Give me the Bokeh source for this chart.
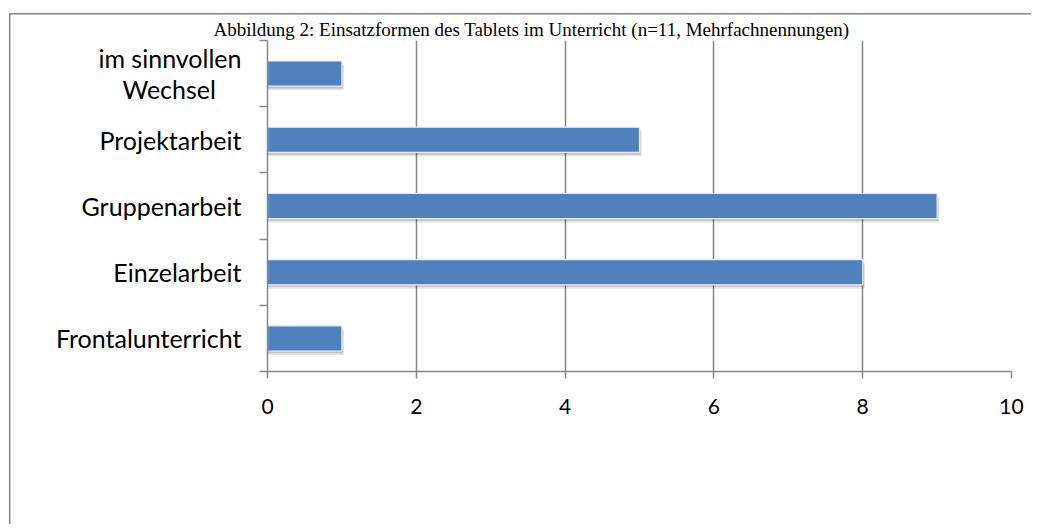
from bokeh.plotting import figure
from bokeh.models import FixedTicker, ColumnDataSource
from bokeh.transform import dodge
from bokeh.embed import file_html
from bokeh.resources import INLINE

categories = ["Frontalunterricht", "Einzelarbeit", "Gruppenarbeit", "Projektarbeit",
              "im sinnvollen\nWechsel\u00a0\u00a0\u00a0\u00a0"]
counts = [1, 8, 9, 5, 1]
x_ticks = [0, 2, 4, 6, 8, 10]
title_text = "Abbildung 2: Einsatzformen des Tablets im Unterricht (n=11, Mehrfachnennungen)"

positions = [i + 0.5 for i in range(len(categories))]
boundaries = list(range(len(categories) + 1))
src = ColumnDataSource(dict(y=positions, value=counts, cat=categories))

GRAY = "#878787"
FONT = "Lato"

grad = "linear-gradient(#878787, #878787)"
p = figure(frame_width=744, frame_height=331,
           min_border_left=267, min_border_right=20,
           min_border_top=40, min_border_bottom=153,
           x_range=(0, 10), y_range=(0, len(categories)),
           output_backend="svg", toolbar_location=None,
           title=title_text,
           styles={"background-color": "white",
                   "background-image": grad + ", " + grad,
                   "background-size": "1.5px 700px, 1300px 1.5px",
                   "background-position": "9px 13px, 9px 13px",
                   "background-repeat": "no-repeat, no-repeat"})
p.outline_line_color = None
p.background_fill_color = None
p.border_fill_color = None

p.title.align = "left"
p.title.offset = -54
p.title.standoff = 2
p.title.text_font = "Liberation Serif"
p.title.text_font_size = "19px"
p.title.text_font_style = "normal"
p.title.text_color = "black"

# grid
p.xgrid.ticker = FixedTicker(ticks=x_ticks)
p.xgrid.grid_line_color = GRAY
p.xgrid.grid_line_width = 1.5
p.ygrid.visible = False

# x axis
p.xaxis.ticker = FixedTicker(ticks=x_ticks)
p.xaxis.axis_line_color = GRAY
p.xaxis.axis_line_width = 1.5
p.xaxis.major_tick_line_color = GRAY
p.xaxis.major_tick_line_width = 1.5
p.xaxis.major_tick_out = 7
p.xaxis.major_tick_in = 0
p.xaxis.minor_tick_line_color = None
p.xaxis.major_label_text_font = FONT
p.xaxis.major_label_text_font_size = "21px"
p.xaxis.major_label_text_color = "black"
p.xaxis.major_label_standoff = 20

# y axis
p.yaxis.ticker = FixedTicker(ticks=positions, minor_ticks=boundaries)
p.yaxis.major_label_overrides = {pos: cat for pos, cat in zip(positions, categories)}
p.yaxis.axis_line_color = GRAY
p.yaxis.axis_line_width = 1.5
p.yaxis.major_tick_line_color = None
p.yaxis.major_tick_out = 0
p.yaxis.major_tick_in = 0
p.yaxis.minor_tick_line_color = GRAY
p.yaxis.minor_tick_line_width = 1.5
p.yaxis.minor_tick_out = 8
p.yaxis.minor_tick_in = 0
p.yaxis.major_label_text_font = FONT
p.yaxis.major_label_text_font_size = "25px"
p.yaxis.major_label_text_line_height = 1.05
p.yaxis.major_label_text_color = "black"
p.yaxis.major_label_standoff = 18

# bars: soft shadow then bar
p.hbar(y=dodge("y", -0.06), left=0, right=dodge("value", 0.03), height=0.38,
       fill_color="black", fill_alpha=0.10, line_color=None, source=src)
p.hbar(y=dodge("y", -0.035), left=0, right=dodge("value", 0.015), height=0.38,
       fill_color="black", fill_alpha=0.14, line_color=None, source=src)
p.hbar(y="y", left=0, right="value", height=0.38,
       fill_color="#4F81BD", line_color="#e6edf6", line_width=1.2, source=src)

open("out.html", "w").write(file_html(p, INLINE))
